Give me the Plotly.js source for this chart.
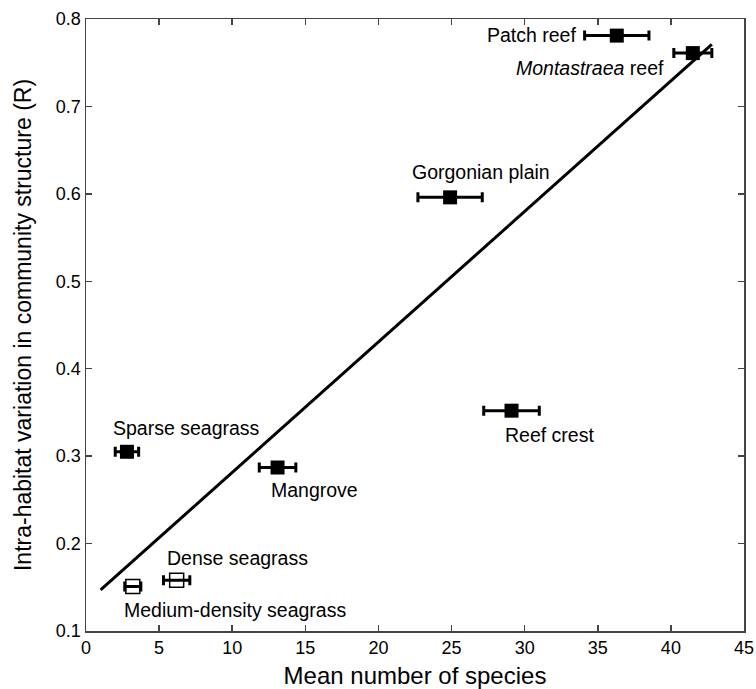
<!DOCTYPE html>
<html>
<head>
<meta charset="utf-8">
<script src="https://cdn.plot.ly/plotly-3.0.1.min.js"></script>
<style>html,body{margin:0;padding:0;background:#fff;}#chart{width:756px;height:689px;}</style>
</head>
<body>
<div id="chart"></div>
<script>
// Habitat data
const habitats = ['Patch reef', 'Montastraea reef', 'Gorgonian plain', 'Reef crest', 'Sparse seagrass', 'Mangrove', 'Dense seagrass', 'Medium-density seagrass'];
const labelTexts = ['Patch reef', '<i>Montastraea</i> reef', 'Gorgonian plain', 'Reef crest', 'Sparse seagrass', 'Mangrove', 'Dense seagrass', 'Medium-density seagrass'];
const meanSpecies = [36.3, 41.5, 24.9, 29.1, 2.8, 13.1, 6.2, 3.2];
const variationR = [0.781, 0.761, 0.596, 0.352, 0.305, 0.287, 0.158, 0.151];
const speciesErr = [2.2, 1.3, 2.2, 1.9, 0.8, 1.25, 0.9, 0.55];
const openMarker = [false, false, false, false, false, false, true, true];
// Label anchor positions (data coordinates)
const labelX = [33.65, 39.67, 22.16, 28.52, 1.71, 12.52, 5.40, 2.46];
const labelY = [0.782, 0.7445, 0.6254, 0.3244, 0.3324, 0.2614, 0.1836, 0.124];
const labelAnchor = ['right', 'right', 'left', 'left', 'left', 'left', 'left', 'left'];
// Regression line
const fitX = [1.0, 42.8];
const fitY = [0.147, 0.771];
// Axis ticks
const xTicks = [0, 5, 10, 15, 20, 25, 30, 35, 40, 45];
const yTicks = [0.1, 0.2, 0.3, 0.4, 0.5, 0.6, 0.7, 0.8];

const FONT = '"Liberation Sans", Arial, Helvetica, sans-serif';

function pick(arr, cond) { return arr.filter((v, i) => cond(i)); }
const isFilled = i => !openMarker[i];
const isOpen = i => openMarker[i];

const traces = [
  {
    x: fitX, y: fitY, mode: 'lines', type: 'scatter',
    line: {color: '#000', width: 3}, hoverinfo: 'skip', showlegend: false
  },
  {
    x: pick(meanSpecies, isFilled), y: pick(variationR, isFilled), text: pick(habitats, isFilled),
    mode: 'markers', type: 'scatter',
    marker: {symbol: 'square', size: 14, color: '#000'},
    error_x: {type: 'data', array: pick(speciesErr, isFilled), visible: true, color: '#000', thickness: 3, width: 5},
    showlegend: false
  },
  {
    x: pick(meanSpecies, isOpen), y: pick(variationR, isOpen), text: pick(habitats, isOpen),
    mode: 'markers', type: 'scatter',
    marker: {symbol: 'square-open', size: 14, color: '#000', line: {width: 1.5, color: '#000'}},
    error_x: {type: 'data', array: pick(speciesErr, isOpen), visible: true, color: '#000', thickness: 3, width: 5},
    showlegend: false
  }
];

const annotations = habitats.map((h, i) => ({
  x: labelX[i], y: labelY[i], xref: 'x', yref: 'y',
  text: labelTexts[i], showarrow: false,
  xanchor: labelAnchor[i], yanchor: 'middle',
  font: {family: FONT, size: 19.5, color: '#000'}
}));

const axisCommon = {
  showgrid: false, zeroline: false,
  showline: true, linecolor: '#444', linewidth: 1.5, mirror: 'ticks',
  ticks: 'inside', ticklen: 6, tickwidth: 1.5, tickcolor: '#444',
  tickfont: {family: FONT, size: 18, color: '#000'}
};

const layout = {
  width: 756, height: 689,
  margin: {l: 86, r: 12, t: 19, b: 58},
  paper_bgcolor: '#fff', plot_bgcolor: '#fff',
  xaxis: Object.assign({}, axisCommon, {
    range: [0, 45], tickvals: xTicks, ticktext: xTicks.map(String),
    title: {text: 'Mean number of species', font: {family: FONT, size: 24, color: '#000'}, standoff: 11}
  }),
  yaxis: Object.assign({}, axisCommon, {
    range: [0.1, 0.8], tickvals: yTicks, ticktext: yTicks.map(v => v.toFixed(1)),
    title: {text: 'Intra-habitat variation in community structure (R)', font: {family: FONT, size: 23, color: '#000'}, standoff: 18}
  }),
  annotations: annotations,
  showlegend: false
};

Plotly.newPlot('chart', traces, layout, {displayModeBar: false, staticPlot: true});
</script>
</body>
</html>
